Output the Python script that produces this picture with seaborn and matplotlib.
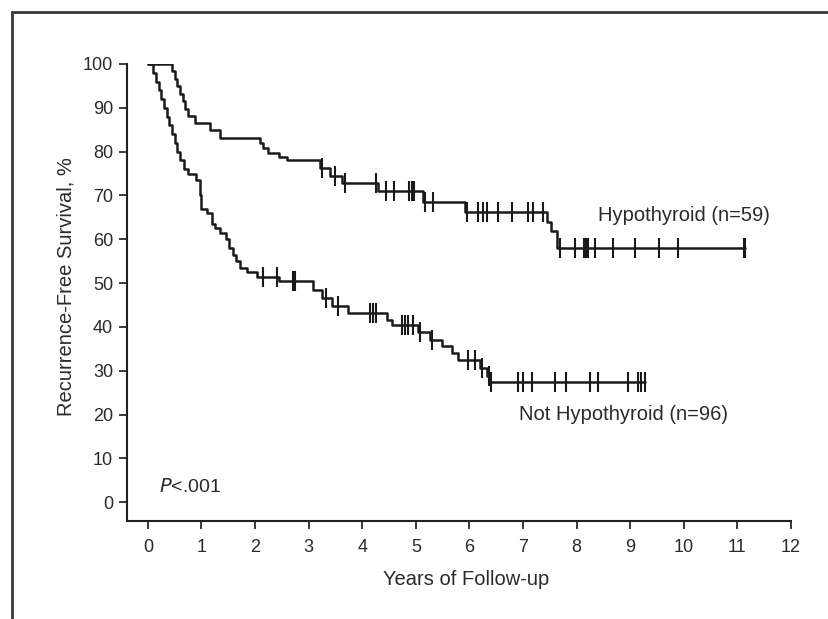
import numpy as np
import pandas as pd
import matplotlib
matplotlib.use("Agg")
import matplotlib.pyplot as plt
from matplotlib.lines import Line2D
import seaborn as sns

# ---- data ----
hypo_times = [0.0, 0.45, 0.50, 0.55, 0.60, 0.65, 0.70, 0.75, 0.88, 1.16, 1.34,
              2.09, 2.15, 2.24, 2.45, 2.59, 3.21, 3.40, 3.62, 4.30, 5.13, 5.91,
              7.45, 7.52, 7.63]
hypo_surv = [100.0, 98.3, 96.6, 94.9, 93.2, 91.5, 89.8, 88.1, 86.6, 84.9, 83.1,
             82.0, 80.8, 79.7, 78.8, 78.0, 76.2, 74.5, 72.8, 71.0, 68.6, 66.3,
             64.0, 62.0, 58.0]
hypo_end = 11.15
hypo_censor = [3.25, 3.50, 3.67, 4.25, 4.45, 4.60, 4.88, 4.93, 4.97, 5.17, 5.32,
               5.95, 6.16, 6.26, 6.33, 6.53, 6.79, 7.09, 7.18, 7.37, 7.69, 7.97,
               8.13, 8.18, 8.22, 8.34, 8.68, 9.09, 9.53, 9.89, 11.12, 11.15]

not_times = [0.0, 0.10, 0.15, 0.20, 0.25, 0.30, 0.35, 0.40, 0.45, 0.50, 0.55,
             0.60, 0.67, 0.75, 0.90, 0.97, 1.00, 1.10, 1.19, 1.25, 1.34, 1.45,
             1.52, 1.58, 1.65, 1.72, 1.85, 2.03, 2.45, 3.08, 3.25, 3.43, 3.73,
             4.46, 4.55, 5.04, 5.26, 5.48, 5.67, 5.79, 6.19, 6.33, 6.38]
not_surv = [100.0, 98.0, 96.0, 94.0, 92.0, 90.0, 88.0, 86.0, 84.0, 82.0, 80.0,
            78.0, 76.0, 75.0, 73.5, 70.0, 67.0, 66.0, 63.5, 62.5, 61.5, 60.0,
            58.0, 56.5, 55.0, 53.5, 52.5, 51.3, 50.4, 48.4, 46.6, 44.8, 43.1,
            41.6, 40.4, 38.8, 37.1, 35.6, 34.1, 32.5, 30.6, 28.7, 27.5]
not_end = 9.27
not_censor = [2.15, 2.40, 2.70, 2.74, 3.33, 3.55, 4.14, 4.20, 4.25, 4.75, 4.80,
              4.85, 4.95, 5.07, 5.30, 5.97, 6.10, 6.23, 6.37, 6.41, 6.90, 7.00,
              7.16, 7.59, 7.81, 8.25, 8.40, 8.96, 9.14, 9.21, 9.27]

x_ticks = list(range(0, 13))
y_ticks = list(range(0, 101, 10))

# ---- build tables ----
def curve_df(times, surv, end, name):
    t = list(times) + [end]
    s = list(surv) + [surv[-1]]
    return pd.DataFrame({"t": t, "s": s, "group": name})

def censor_df(times, surv, ctimes, name):
    idx = np.searchsorted(np.array(times), np.array(ctimes), side="right") - 1
    return pd.DataFrame({"t": ctimes, "s": np.array(surv)[idx], "group": name})

curves = pd.concat([curve_df(hypo_times, hypo_surv, hypo_end, "Hypothyroid"),
                    curve_df(not_times, not_surv, not_end, "Not Hypothyroid")])
cens = pd.concat([censor_df(hypo_times, hypo_surv, hypo_censor, "Hypothyroid"),
                  censor_df(not_times, not_surv, not_censor, "Not Hypothyroid")])

sns.set_style("ticks")
plt.rcParams["font.family"] = ["Liberation Sans", "DejaVu Sans"]

fig = plt.figure(figsize=(8.29, 6.19), dpi=100)
ax = fig.add_axes([127/829, 1-521/619, (791-127)/829, (521-64)/619])

line_col = "#1a1a1a"
txt_col = "#2a2a2a"
for g in ["Hypothyroid", "Not Hypothyroid"]:
    sub = curves[curves.group == g]
    sns.lineplot(data=sub, x="t", y="s", ax=ax, estimator=None, sort=False,
                 drawstyle="steps-post", color=line_col, linewidth=1.8)
    csub = cens[cens.group == g]
    ax.plot(csub["t"], csub["s"], linestyle="none", marker="|",
            markersize=15, markeredgewidth=1.5, color=line_col)

ax.set_xlim(-0.39, 12.0)
ax.set_ylim(-4.3, 100.0)
ax.set_xticks(x_ticks)
ax.set_yticks(y_ticks)
ax.tick_params(axis="both", direction="out", length=6, width=1.3,
               labelsize=13, colors=txt_col, pad=4)
ax.tick_params(axis="x", pad=7)
for sp in ["top", "right"]:
    ax.spines[sp].set_visible(False)
for sp in ["left", "bottom"]:
    ax.spines[sp].set_linewidth(1.5)
    ax.spines[sp].set_color("#222222")

ax.set_xlabel("Years of Follow-up", fontsize=14.5, color=txt_col)
ax.set_ylabel("Recurrence-Free Survival, %", fontsize=14.5, color=txt_col)
ax.xaxis.set_label_coords(0.51, -0.107)
ax.yaxis.set_label_coords(-0.077, 0.514)

ax.text(8.4, 65.5, "Hypothyroid (n=59)", fontsize=14.5, color=txt_col, va="center")
ax.text(6.92, 20.1, "Not Hypothyroid (n=96)", fontsize=14.5, color=txt_col, va="center")
ax.text(0.2, 3.4, "$\\it{P}$<.001", fontsize=14, color=txt_col, va="center")

# outer frame (top and left edges visible)
fig.add_artist(Line2D([12/829, 1.0], [1-12/619, 1-12/619], transform=fig.transFigure,
                      color="#3a3a3a", linewidth=2))
fig.add_artist(Line2D([12/829, 12/829], [0.0, 1-12/619], transform=fig.transFigure,
                      color="#3a3a3a", linewidth=2))

fig.savefig("out.png", dpi=100)
